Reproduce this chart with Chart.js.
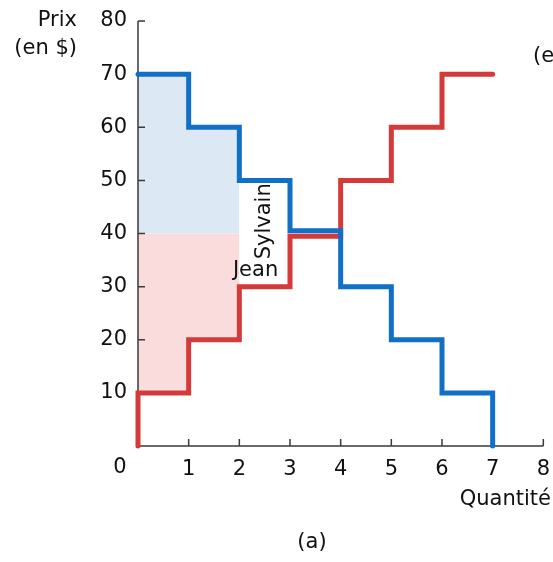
<!DOCTYPE html>
<html>
<head>
<meta charset="utf-8">
<script src="https://cdn.jsdelivr.net/npm/chart.js@4.4.1/dist/chart.umd.min.js"></script>
<style>
body{margin:0;background:#fff;}
#cadre{width:553px;height:562px;}
</style>
</head>
<body>
<div id="cadre"><canvas id="graphique" width="553" height="562"></canvas></div>
<script>
// valeurs (a)
var quantites=[1,2,3,4,5,6,7];
var prixSylvain=[70,60,50,40,30,20,10]; // courbe bleue
var prixJean=[10,20,30,40,50,60,70];    // courbe rouge
var prixMarche=40;
var quantiteEchangee=2;
var decalage=0.5; // les deux paliers a 40 sont legerement separes

var bleu='#1170c6', rouge='#d43a3a';
var police='"DejaVu Sans", sans-serif';
var taille=21;
var encre='#111';

//construction des paliers
var ptsSylvain=[], ptsJean=[{x:0,y:0}];
var ombreSylvain=[], ombreJean=[];
for(var i=0;i<quantites.length;i++){
    var q=quantites[i];
    var ps=prixSylvain[i], pj=prixJean[i];
    if(ps===pj){ ps+=decalage; pj-=decalage; }
    ptsSylvain.push({x:q-1,y:ps},{x:q,y:ps});
    ptsJean.push({x:q-1,y:pj},{x:q,y:pj});
    if(q<=quantiteEchangee){
        ombreSylvain.push({x:q-1,y:prixSylvain[i]},{x:q,y:prixSylvain[i]});
        ombreJean.push({x:q-1,y:prixJean[i]},{x:q,y:prixJean[i]});
    }
}
ptsSylvain.push({x:quantites[quantites.length-1],y:0});

//axes, petites graduations et textes
var decor={
    id:'decor',
    beforeDatasetsDraw:function(chart){
        var ctx=chart.ctx, sx=chart.scales.x, sy=chart.scales.y;
        var x0=sx.getPixelForValue(0), y0=sy.getPixelForValue(0);
        ctx.save();
        ctx.strokeStyle='#3a3a3a';
        ctx.lineWidth=1.5;
        ctx.beginPath();
        ctx.moveTo(x0,sy.getPixelForValue(80));
        ctx.lineTo(x0,y0);
        ctx.lineTo(sx.getPixelForValue(8),y0);
        for(var v=1;v<=8;v++){
            var px=sx.getPixelForValue(v);
            ctx.moveTo(px,y0); ctx.lineTo(px,y0-7);
        }
        for(var w=10;w<=80;w+=10){
            var py=sy.getPixelForValue(w);
            ctx.moveTo(x0,py); ctx.lineTo(x0+7,py);
        }
        ctx.stroke();
        ctx.restore();
    },
    afterDraw:function(chart){
        var ctx=chart.ctx, sx=chart.scales.x, sy=chart.scales.y;
        ctx.save();
        ctx.fillStyle=encre;
        ctx.font=taille+'px '+police;
        ctx.textBaseline='middle';
        ctx.textAlign='right';
        ctx.fillText('Prix',77,21);
        ctx.fillText('(en $)',77,49);
        ctx.fillText('Quantité',551,500);
        ctx.textAlign='center';
        ctx.fillText('0',120,468);
        ctx.fillText('(a)',312,543);
        ctx.fillText('Jean',sx.getPixelForValue(2.32),sy.getPixelForValue(33));
        ctx.textAlign='left';
        ctx.fillText('(en $)',533,57);
        ctx.translate(sx.getPixelForValue(2.5),sy.getPixelForValue(42.3));
        ctx.rotate(-Math.PI/2);
        ctx.textAlign='center';
        ctx.fillText('Sylvain',0,0);
        ctx.restore();
    }
};

var ctx=document.getElementById('graphique').getContext('2d');
var graphique=new Chart(ctx,{
    type:'line',
    data:{
        datasets:[
            {data:ptsSylvain,borderColor:bleu,borderWidth:5,pointRadius:0,fill:false,
             borderCapStyle:'round',borderJoinStyle:'miter',tension:0,clip:false},
            {data:ptsJean,borderColor:rouge,borderWidth:5,pointRadius:0,fill:false,
             borderCapStyle:'round',borderJoinStyle:'miter',tension:0,clip:false},
            {data:ombreSylvain,borderWidth:0,pointRadius:0,backgroundColor:'#dde8f5',
             fill:{value:prixMarche}},
            {data:ombreJean,borderWidth:0,pointRadius:0,backgroundColor:'#fbdcdc',
             fill:{value:prixMarche}}
        ]
    },
    options:{
        responsive:false,
        animation:false,
        layout:{padding:{top:21,right:6,left:0,bottom:0}},
        plugins:{
            legend:{display:false},
            tooltip:{enabled:false},
            filler:{drawTime:'beforeDatasetsDraw'}
        },
        scales:{
            x:{
                type:'linear',min:0,max:8,
                grid:{display:false},border:{display:false},
                afterFit:function(s){ s.height=116; },
                ticks:{stepSize:1,autoSkip:false,maxRotation:0,padding:3,color:encre,
                    font:{family:police,size:taille},
                    callback:function(v){ return v===0?'':v; }}
            },
            y:{
                min:0,max:80,
                grid:{display:false},border:{display:false},
                afterFit:function(s){ s.width=138; },
                ticks:{stepSize:10,padding:3,color:encre,
                    font:{family:police,size:taille},
                    callback:function(v){ return v===0?'':v; }}
            }
        }
    },
    plugins:[decor]
});
</script>
</body>
</html>
